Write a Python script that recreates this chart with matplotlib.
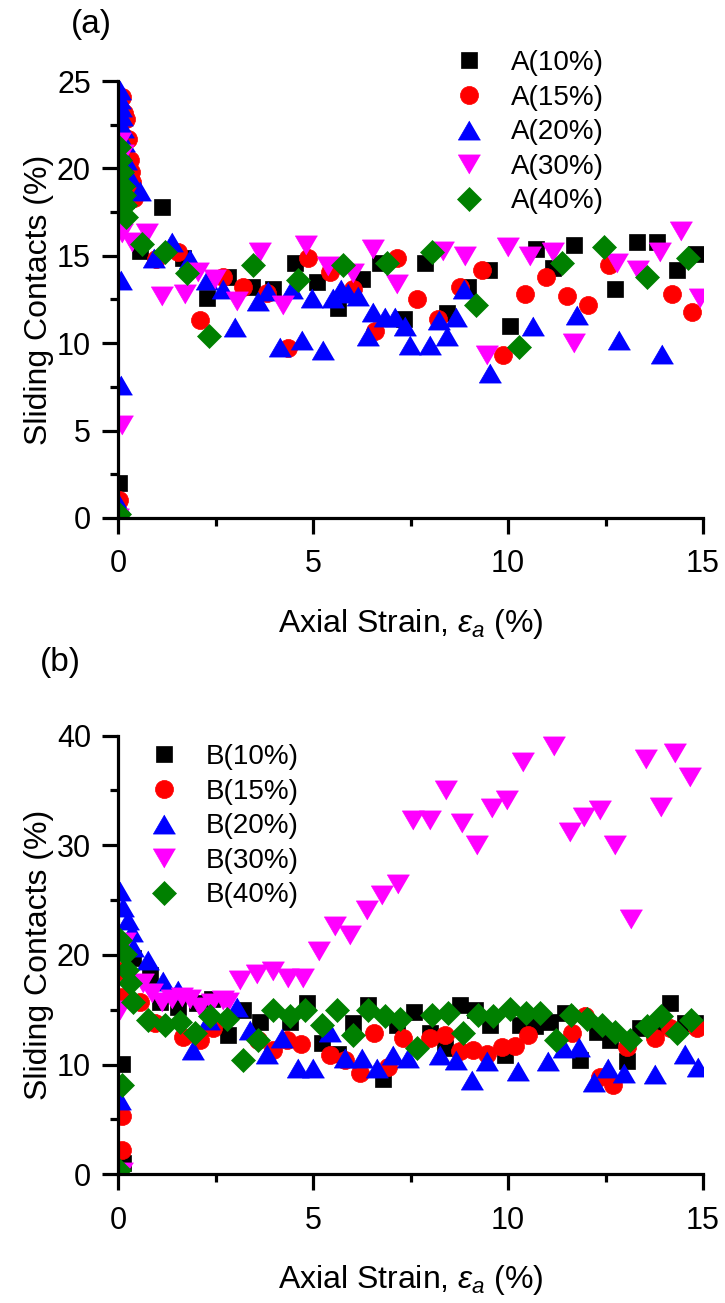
import numpy as np
import matplotlib
matplotlib.use("Agg")
import matplotlib.pyplot as plt
from matplotlib.ticker import MultipleLocator

plt.rcParams["font.family"] = ["Liberation Sans", "DejaVu Sans"]
plt.rcParams["mathtext.fontset"] = "custom"
plt.rcParams["mathtext.rm"] = "Liberation Sans"
plt.rcParams["mathtext.it"] = "Liberation Sans:italic"

# ---- panel (a) ----
A10_x = [0, 0.02, 0.04, 0.08, 0.12, 0.2, 0.56, 1.12, 1.67, 2.27, 2.83, 3.43, 3.98, 4.54, 5.09, 5.65,
         6.25, 6.72, 7.32, 7.87, 8.43, 8.98, 9.52, 10.05, 10.72, 11.15, 11.69, 12.74, 13.3, 13.83, 14.34, 14.82]
A10_y = [0, 2.0, 20.5, 19.8, 19.0, 18.2, 15.3, 17.8, 14.9, 12.6, 13.8, 13.2, 13.1, 14.6, 13.5, 12.0,
         13.7, 14.6, 11.4, 14.6, 11.7, 13.2, 14.2, 11.0, 15.4, 14.3, 15.6, 13.1, 15.8, 15.8, 14.2, 15.1]

A15_x = [0, 0.02, 0.05, 0.1, 0.15, 0.2, 0.25, 0.3, 0.33, 0.37, 0.4, 0.97, 1.55, 2.1, 2.7, 3.21, 3.81,
         4.37, 4.88, 5.44, 6.03, 6.59, 7.15, 7.66, 8.21, 8.77, 9.33, 9.88, 10.44, 10.97, 11.52, 12.06,
         12.6, 14.2, 14.72]
A15_y = [0, 1.0, 24.0, 24.1, 23.2, 22.8, 21.7, 20.5, 19.8, 19.2, 18.3, 14.8, 15.2, 11.3, 13.8, 13.2, 12.9,
         9.7, 14.9, 14.1, 13.1, 10.7, 14.9, 12.5, 11.4, 13.2, 14.2, 9.3, 12.8, 13.8, 12.7, 12.2,
         14.5, 12.8, 11.8]

A20_x = [0, 0.02, 0.08, 0.08, 0.04, 0.06, 0.08, 0.1, 0.12, 0.15, 0.2, 0.3, 0.56, 0.91, 1.38, 1.85, 2.27,
         2.7, 3.0, 3.6, 3.85, 4.15, 4.45, 4.71, 4.98, 5.26, 5.52, 5.71, 5.9, 6.16, 6.42, 6.55, 6.85,
         7.1, 7.36, 7.49, 8.0, 8.24, 8.43, 8.67, 8.88, 9.54, 10.65, 11.76, 12.85, 13.94]
A20_y = [0, 0.8, 7.6, 13.6, 24.5, 24.0, 23.5, 23.0, 22.3, 21.5, 20.5, 19.5, 18.7, 14.9, 15.8, 14.8, 13.6,
         13.1, 10.9, 12.4, 13.0, 9.8, 13.1, 10.2, 12.6, 9.6, 12.6, 13.1, 12.9, 12.7, 10.4, 11.8, 11.5,
         11.5, 11.0, 9.9, 9.9, 11.3, 10.4, 11.5, 13.1, 8.3, 11.0, 11.6, 10.2, 9.4]

A30_x = [0, 0.05, 0.09, 0.09, 0.12, 0.35, 0.74, 1.12, 1.72, 2.06, 2.49, 3.04, 3.64, 4.24, 4.82, 5.39,
         6.03, 6.55, 7.15, 8.34, 8.9, 9.45, 10.01, 10.56, 11.15, 11.69, 12.8, 13.34, 13.9, 14.43, 14.92]
A30_y = [0, 21.5, 5.3, 16.3, 20.8, 15.8, 16.3, 12.7, 12.8, 14.1, 13.7, 12.4, 15.2, 12.2, 15.6, 14.4,
         14.0, 15.4, 13.4, 15.3, 15.0, 9.3, 15.5, 15.0, 15.2, 10.0, 14.6, 14.2, 15.2, 16.4, 12.6]

A40_x = [0.02, 0.03, 0.06, 0.09, 0.12, 0.15, 0.18, 0.2, 0.61, 1.21, 1.76, 2.34, 3.47, 4.62, 5.78, 6.9,
         8.04, 9.18, 10.29, 11.38, 12.46, 13.56, 14.62]
A40_y = [0.2, 21.2, 20.5, 19.8, 19.0, 18.5, 17.9, 17.2, 15.7, 15.2, 14.0, 10.4, 14.5, 13.6, 14.5, 14.6,
         15.2, 12.2, 9.8, 14.6, 15.5, 13.8, 14.9]

# ---- panel (b) ----
B10_x = [0, 0.09, 0.14, 0.2, 0.39, 0.82, 1.07, 1.55, 2.02, 2.4, 2.83, 3.21, 3.64, 4.41, 4.84, 5.22,
         5.65, 6.03, 6.42, 6.8, 7.15, 7.6, 8.0, 8.38, 8.77, 9.15, 9.54, 9.92, 10.31, 10.69, 11.08, 11.46,
         11.85, 12.27, 12.62, 13.04, 13.38, 13.77, 14.15, 14.54, 14.79]
B10_y = [0, 10.1, 1.0, 18.5, 19.7, 18.2, 15.7, 15.3, 15.6, 16.0, 12.7, 15.0, 13.9, 13.9, 15.6, 12.0,
         11.0, 13.8, 15.4, 8.7, 13.6, 14.8, 12.9, 11.5, 15.4, 15.0, 13.6, 10.9, 13.6, 13.5, 13.9, 14.7,
         10.4, 13.0, 12.2, 10.3, 13.3, 13.3, 15.6, 13.8, 13.8]

B15_x = [0, 0.09, 0.09, 0.05, 0.09, 0.56, 0.95, 1.67, 2.1, 2.44, 3.6, 3.98, 4.33, 4.7, 5.43, 5.82, 6.21,
         6.56, 6.93, 7.3, 8.0, 8.38, 8.76, 9.11, 9.47, 9.84, 10.18, 10.52, 11.63, 11.97, 12.36, 12.7,
         13.06, 13.77, 14.15, 14.84]
B15_y = [0, 2.2, 5.3, 18.5, 16.2, 15.7, 13.8, 12.5, 12.2, 13.3, 12.2, 11.3, 12.2, 11.9, 10.9, 10.4, 9.2,
         12.9, 9.8, 12.4, 12.4, 12.7, 11.2, 11.3, 11.0, 11.6, 11.7, 12.7, 12.9, 14.4, 8.9, 8.1,
         11.6, 12.4, 13.3, 13.3]

B20_x = [0, 0.05, 0.05, 0.12, 0.26, 0.35, 0.39, 0.78, 1.16, 1.55, 1.93, 2.32, 3.04, 3.38, 3.81, 4.2,
         4.62, 5.01, 5.44, 5.82, 6.25, 6.63, 7.06, 7.44, 8.26, 8.67, 9.07, 9.47, 10.26, 11.03, 11.44,
         11.82, 12.21, 12.57, 12.97, 13.77, 14.53, 14.88]
B20_y = [0, 6.8, 25.8, 24.4, 23.2, 22.1, 20.7, 19.5, 17.6, 16.8, 11.3, 14.1, 15.3, 13.2, 11.0, 12.4,
         9.7, 9.7, 13.0, 10.6, 10.6, 9.7, 10.9, 10.6, 10.9, 10.4, 8.6, 10.3, 9.4, 10.3, 11.5,
         11.6, 8.4, 9.7, 9.2, 9.1, 11.0, 9.8]

B30_x = [0, 0.05, 0.1, 0.18, 0.65, 0.86, 1.12, 1.38, 1.63, 1.85, 2.1, 2.4, 2.7, 2.83, 3.13, 3.56, 3.98,
         4.37, 4.75, 5.16, 5.56, 5.95, 6.38, 6.76, 7.19, 7.57, 8.0, 8.41, 8.81, 9.21, 9.58, 9.98, 10.39,
         10.82, 11.19, 11.59, 11.96, 12.36, 12.74, 13.15, 13.53, 13.92, 14.28, 14.67]
B30_y = [0, 15.0, 0.2, 21.2, 17.4, 16.5, 15.7, 16.0, 16.2, 16.0, 15.3, 15.6, 15.9, 15.7, 17.7, 18.3, 18.5,
         17.9, 17.9, 20.4, 22.6, 21.8, 24.1, 25.5, 26.5, 32.3, 32.3, 35.0, 32.0, 30.0, 33.4, 34.1, 37.6,
         41.0, 39.1, 31.2, 32.6, 33.2, 30.0, 23.3, 37.9, 33.5, 38.4, 36.2]

B40_x = [0.02, 0.05, 0.09, 0.18, 0.22, 0.31, 0.39, 0.78, 1.21, 1.59, 1.97, 2.36, 2.79, 3.2, 3.6, 3.98,
         4.41, 4.79, 5.22, 5.61, 6.03, 6.42, 6.84, 7.23, 7.66, 8.04, 8.47, 8.85, 9.24, 9.62, 10.05, 10.46,
         10.82, 11.23, 11.61, 12.02, 12.4, 12.74, 13.13, 13.56, 13.93, 14.32, 14.68]
B40_y = [0.4, 21.4, 8.1, 20.1, 18.6, 17.4, 15.7, 14.1, 13.6, 13.9, 12.9, 14.4, 14.2, 10.4, 12.2, 15.0,
         14.4, 15.0, 13.6, 15.0, 12.7, 15.0, 14.4, 14.2, 11.5, 14.5, 14.7, 12.9, 14.5, 14.4, 15.1, 14.7,
         14.7, 12.2, 14.5, 14.2, 13.6, 13.0, 12.2, 13.5, 14.4, 12.9, 14.1]

LEVELS = ["10%", "15%", "20%", "30%", "40%"]
COLORS = ["#000000", "#ff0000", "#0000ff", "#ff00ff", "#008000"]
TRI_UP = [(0, 0.86), (-1, -0.86), (1, -0.86)]
TRI_DN = [(0, -0.86), (-1, 0.86), (1, 0.86)]
MARKERS = [("s", 11.5), ("o", 13), (TRI_UP, 16), (TRI_DN, 16), ("D", 12)]


def style_axis(ax, ymax, ymajor):
    ax.set_xlim(0, 15)
    ax.set_ylim(0, ymax)
    ax.xaxis.set_major_locator(MultipleLocator(5))
    ax.xaxis.set_minor_locator(MultipleLocator(2.5))
    ax.yaxis.set_major_locator(MultipleLocator(ymajor))
    ax.yaxis.set_minor_locator(MultipleLocator(ymajor / 2))
    for s in ["top", "right"]:
        ax.spines[s].set_visible(False)
    for s in ["left", "bottom"]:
        ax.spines[s].set_linewidth(2.3)
    ax.tick_params(which="major", direction="out", length=11.5, width=2.3, labelsize=22)
    ax.tick_params(which="minor", direction="out", length=5.5, width=2.3)
    ax.tick_params(axis="x", which="major", pad=11)
    ax.tick_params(axis="y", which="major", pad=8)
    ax.set_xlabel(r"Axial Strain, $\varepsilon_a$ (%)", fontsize=23, labelpad=20)
    ax.set_ylabel("Sliding Contacts (%)", fontsize=23, labelpad=2)


def plot_panel(ax, xs, ys, prefix):
    for (x, y), lev, c, (m, ms) in zip(zip(xs, ys), LEVELS, COLORS, MARKERS):
        ax.plot(x, y, linestyle="none", marker=m, markersize=ms, color=c,
                markeredgecolor=c, markeredgewidth=0.5, label=f"{prefix}({lev})")


fig = plt.figure(figsize=(7.25, 13.03), dpi=100)
ax1 = fig.add_axes([0.1628, 0.6025, 0.8069, 0.3353])
ax2 = fig.add_axes([0.1628, 0.0988, 0.8069, 0.3366])

plot_panel(ax1, [A10_x, A15_x, A20_x, A30_x, A40_x], [A10_y, A15_y, A20_y, A30_y, A40_y], "A")
plot_panel(ax2, [B10_x, B15_x, B20_x, B30_x, B40_x], [B10_y, B15_y, B20_y, B30_y, B40_y], "B")
style_axis(ax1, 25, 5)
style_axis(ax2, 40, 10)

leg_kw = dict(frameon=False, fontsize=20, loc="upper left", borderpad=0, borderaxespad=0,
              handlelength=1.0, handletextpad=1.0, labelspacing=0.31)
ax1.legend(bbox_to_anchor=(0.628, 0.9616), bbox_transform=fig.transFigure, **leg_kw)
ax2.legend(bbox_to_anchor=(0.2075, 0.429), bbox_transform=fig.transFigure, **leg_kw)

fig.text(91 / 725, 1 - 25 / 1303, "(a)", fontsize=24, ha="center", va="center")
fig.text(60 / 725, 1 - 662 / 1303, "(b)", fontsize=24, ha="center", va="center")

fig.savefig("out.png", dpi=100)
